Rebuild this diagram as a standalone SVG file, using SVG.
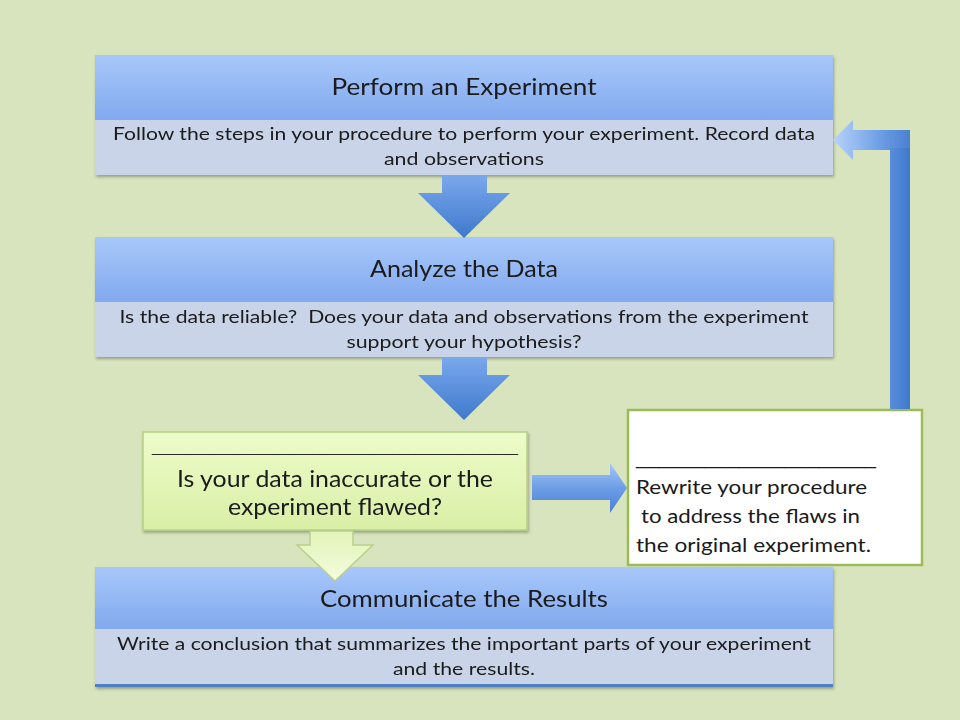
<svg xmlns="http://www.w3.org/2000/svg" width="960" height="720" viewBox="0 0 960 720">
<defs>
<linearGradient id="hdr" x1="0" y1="0" x2="0" y2="1"><stop offset="0" stop-color="#a8c8fa"/><stop offset="1" stop-color="#82a9ee"/></linearGradient>
<linearGradient id="darr" x1="0" y1="0" x2="0" y2="1"><stop offset="0" stop-color="#7aa8ec"/><stop offset="1" stop-color="#3f79cc"/></linearGradient>
<linearGradient id="rarr" x1="0" y1="0" x2="0" y2="1"><stop offset="0" stop-color="#a6c8f8"/><stop offset="0.5" stop-color="#6d9de6"/><stop offset="1" stop-color="#4a80d2"/></linearGradient>
<linearGradient id="uarrH" x1="0" y1="0" x2="1" y2="0"><stop offset="0" stop-color="#b8d4fa"/><stop offset="0.6" stop-color="#6e9fe6"/><stop offset="1" stop-color="#4a80d2"/></linearGradient>
<linearGradient id="uarrV" x1="0" y1="0" x2="1" y2="0"><stop offset="0" stop-color="#5a8edc"/><stop offset="1" stop-color="#3f78cc"/></linearGradient>
<linearGradient id="gbox" x1="0" y1="0" x2="0" y2="1"><stop offset="0" stop-color="#eefcca"/><stop offset="1" stop-color="#d9efa6"/></linearGradient>
<linearGradient id="garr" x1="0" y1="0" x2="0" y2="1"><stop offset="0" stop-color="#e2f4b8"/><stop offset="1" stop-color="#f4fcde"/></linearGradient>
<filter id="sh" x="-5%" y="-10%" width="110%" height="130%"><feDropShadow dx="1" dy="2" stdDeviation="1.5" flood-color="#000" flood-opacity="0.3"/></filter>
</defs>
<style>
.hd{font-family:Lato,"Open Sans","Liberation Sans",sans-serif;font-size:23px;fill:#1a1a1a;text-anchor:middle}
.bd{font-family:Lato,"Open Sans","Liberation Sans",sans-serif;font-size:17.5px;fill:#1a1a1a;text-anchor:middle}
.gt{font-family:Lato,"Open Sans","Liberation Sans",sans-serif;font-size:23px;fill:#1a1a1a;text-anchor:middle}
.wt{font-family:Lato,"Open Sans","Liberation Sans",sans-serif;font-size:18.5px;fill:#1a1a1a}
.us{font-family:"Liberation Sans",sans-serif;fill:#1a1a1a}
.body{fill:#c9d4e8}
</style>
<rect width="960" height="720" fill="#d8e4bd"/>

<g id="node-perform" filter="url(#sh)">
  <rect x="95" y="55" width="738" height="65" fill="url(#hdr)"/>
  <rect class="body" x="95" y="120" width="738" height="55"/>
  <text class="hd" x="464" y="95" textLength="265" lengthAdjust="spacingAndGlyphs">Perform an Experiment</text>
  <text class="bd" x="464" y="140" textLength="702" lengthAdjust="spacingAndGlyphs">Follow the steps in your procedure to perform your experiment. Record data</text>
  <text class="bd" x="464" y="165" textLength="160" lengthAdjust="spacingAndGlyphs">and observations</text>
</g>

<g id="node-analyze" filter="url(#sh)">
  <rect x="95" y="237" width="738" height="65" fill="url(#hdr)"/>
  <rect class="body" x="95" y="302" width="738" height="55"/>
  <text class="hd" x="464" y="277" textLength="188" lengthAdjust="spacingAndGlyphs">Analyze the Data</text>
  <text class="bd" x="464" y="323" textLength="689" lengthAdjust="spacingAndGlyphs" xml:space="preserve">Is the data reliable?  Does your data and observations from the experiment</text>
  <text class="bd" x="464" y="348" textLength="235" lengthAdjust="spacingAndGlyphs">support your hypothesis?</text>
</g>

<g id="node-communicate" filter="url(#sh)">
  <rect x="95" y="567" width="738" height="62" fill="url(#hdr)"/>
  <rect class="body" x="95" y="629" width="738" height="55"/>
  <rect x="95" y="684" width="738" height="3" fill="#4f7fc4"/>
  <text class="hd" x="464" y="607" textLength="288" lengthAdjust="spacingAndGlyphs">Communicate the Results</text>
  <text class="bd" x="464" y="650" textLength="694" lengthAdjust="spacingAndGlyphs">Write a conclusion that summarizes the important parts of your experiment</text>
  <text class="bd" x="464" y="675" textLength="142" lengthAdjust="spacingAndGlyphs">and the results.</text>
</g>

<g id="node-question" filter="url(#sh)">
  <rect x="143" y="432" width="384" height="98" fill="url(#gbox)" stroke="#b6cf88" stroke-width="1.5"/>
  <text class="us" x="152" y="452" font-size="15" textLength="366" lengthAdjust="spacingAndGlyphs">________________________________</text>
  <text class="gt" x="335" y="487" textLength="316" lengthAdjust="spacingAndGlyphs">Is your data inaccurate or the</text>
  <text class="gt" x="335" y="515" textLength="214" lengthAdjust="spacingAndGlyphs">experiment flawed?</text>
</g>

<g id="node-rewrite">
  <rect x="628" y="410" width="294" height="155" fill="#ffffff" stroke="#9bbb59" stroke-width="2.5"/>
  <text class="us" x="636" y="464" font-size="22" textLength="240" lengthAdjust="spacingAndGlyphs">_____________________</text>
  <text class="wt" x="636" y="494" textLength="231" lengthAdjust="spacingAndGlyphs">Rewrite your procedure</text>
  <text class="wt" x="641" y="523" textLength="219" lengthAdjust="spacingAndGlyphs">to address the flaws in</text>
  <text class="wt" x="636" y="552" textLength="235" lengthAdjust="spacingAndGlyphs">the original experiment.</text>
</g>

<g id="connectors">
  <path d="M442 175 H487 V193 H510 L464 238 L418 193 H442 Z" fill="url(#darr)"/>
  <path d="M442 357 H487 V375 H510 L464 420 L418 375 H442 Z" fill="url(#darr)"/>
  <path d="M310 531 H353 V545 H373 L335 581 L297 545 H310 Z" fill="url(#garr)" stroke="#b8d08a" stroke-width="1.5"/>
  <path d="M532 475 H610 V463 L627 488 L610 513 V500 H532 Z" fill="url(#rarr)"/>
  <path d="M890 409 V150 H853 V160 L833 140 L853 120 V130 H910 V409 Z" fill="url(#uarrH)"/>
  <rect x="890" y="148" width="20" height="261" fill="url(#uarrV)"/>
</g>
</svg>
